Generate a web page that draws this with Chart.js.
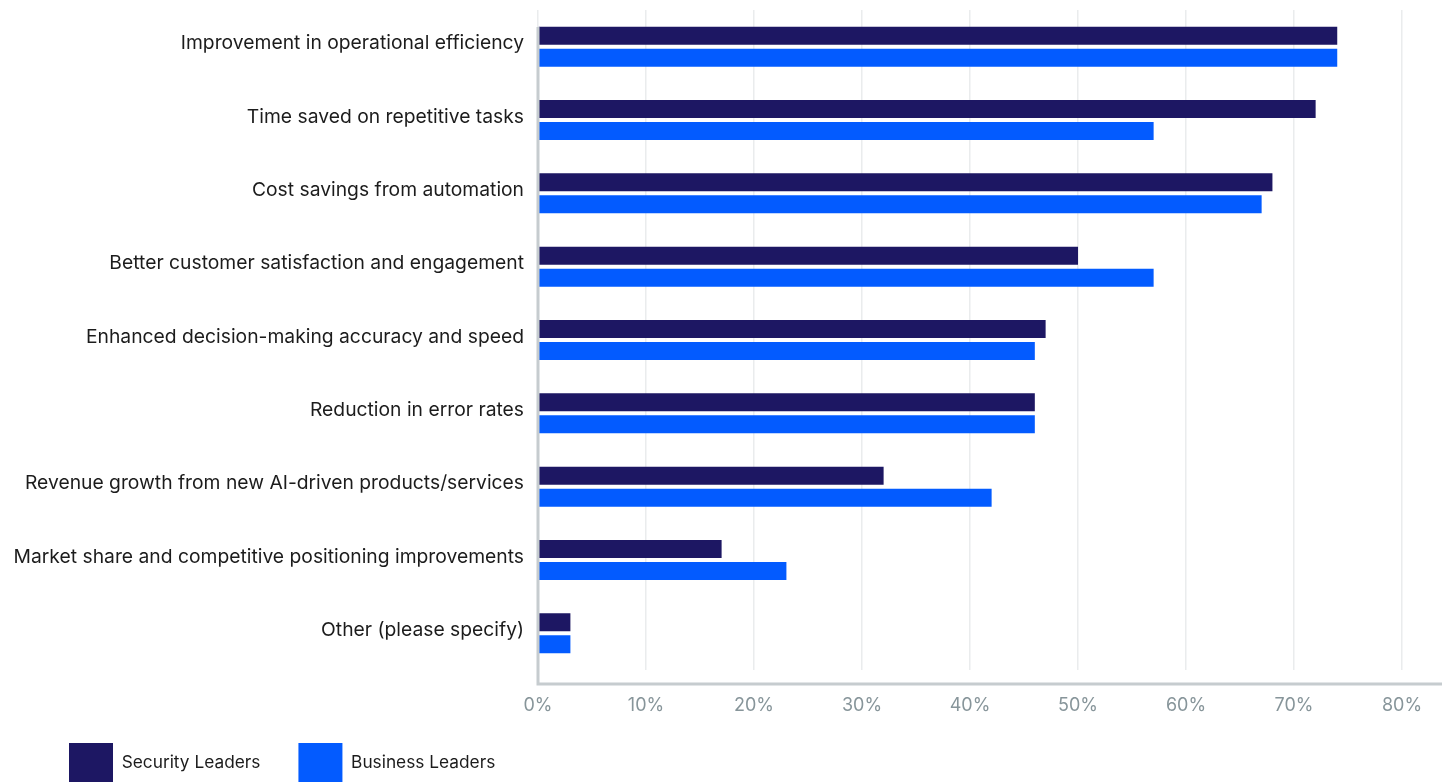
<!DOCTYPE html>
<html>
<head>
<meta charset="utf-8">
<script src="https://cdn.jsdelivr.net/npm/chart.js@4"></script>
<style>
  html, body { margin: 0; padding: 0; background: #fff; overflow: hidden; }
  #wrap { position: relative; width: 1448px; height: 794px; }
</style>
</head>
<body>
<div id="wrap"><canvas id="chart"></canvas></div>
<script>
// categories (top to bottom)
const categories = [
    "Improvement in operational efficiency",
    "Time saved on repetitive tasks",
    "Cost savings from automation",
    "Better customer satisfaction and engagement",
    "Enhanced decision-making accuracy and speed",
    "Reduction in error rates",
    "Revenue growth from new AI-driven products/services",
    "Market share and competitive positioning improvements",
    "Other (please specify)"
];

// percent of respondents
const securityLeaders = [74, 72, 68, 50, 47, 46, 32, 17, 3];
const businessLeaders = [74, 57, 67, 57, 46, 46, 42, 23, 3];

const seriesNames = ["Security Leaders", "Business Leaders"];
const xTicks = [0, 10, 20, 30, 40, 50, 60, 70, 80];

const colors = {
    navy: "#1d1763",
    blue: "#035bff",
    grid: "#eaeced",
    axis: "#c6cccf",
    tick: "#87959a",
    text: "#1c1c1c"
};

/* axis lines sit a little below / left of the grid, drawn by hand */
const axisLines = {
    id: "axisLines",
    afterLayout(chart) {
        // let the long category labels and the % labels spill out of their boxes
        chart.scales.y.left = 0;
        chart.scales.x.bottom = chart.height;
    },
    afterDraw(chart) {
        const { ctx, chartArea } = chart;
        ctx.save();
        ctx.strokeStyle = colors.axis;
        ctx.lineWidth = 3;
        ctx.beginPath();
        ctx.moveTo(chartArea.left, chartArea.top + 17);
        ctx.lineTo(chartArea.left, chartArea.bottom + 14);
        ctx.lineTo(chartArea.right, chartArea.bottom + 14);
        ctx.stroke();
        ctx.restore();
    }
};

new Chart(document.getElementById("chart"), {
    type: "bar",
    data: {
        labels: categories,
        datasets: [
            {
                label: seriesNames[0],
                data: securityLeaders,
                backgroundColor: colors.navy,
                categoryPercentage: 0.6,
                barPercentage: 0.818
            },
            {
                label: seriesNames[1],
                data: businessLeaders,
                backgroundColor: colors.blue,
                categoryPercentage: 0.6,
                barPercentage: 0.818
            }
        ]
    },
    options: {
        indexAxis: "y",
        responsive: true,
        maintainAspectRatio: false,
        animation: false,
        layout: {
            autoPadding: false,
            padding: { left: 31, right: 6, top: 10, bottom: 1 }
        },
        plugins: {
            tooltip: { enabled: false },
            legend: {
                position: "bottom",
                align: "start",
                labels: {
                    boxWidth: 44,
                    boxHeight: 40,
                    padding: 38,
                    color: colors.text,
                    font: { family: "Inter", size: 17.3 }
                }
            }
        },
        scales: {
            x: {
                min: 0,
                max: 83.7,
                afterBuildTicks(scale) {
                    scale.ticks = xTicks.map(v => ({ value: v }));
                },
                afterFit(scale) {
                    scale.height = 35;
                    scale.paddingLeft = 0;
                    scale.paddingRight = 0;
                },
                grid: { color: colors.grid, lineWidth: 1.5, drawTicks: false },
                border: { display: false },
                ticks: {
                    padding: 25,
                    color: colors.tick,
                    font: { family: "Inter", size: 18 },
                    callback: v => v + "%"
                }
            },
            y: {
                afterFit(scale) {
                    scale.width = 507;
                    scale.paddingTop = 0;
                    scale.paddingBottom = 0;
                },
                grid: { display: false, drawTicks: false },
                border: { display: false },
                ticks: {
                    padding: 14,
                    labelOffset: -3,
                    color: colors.text,
                    font: { family: "Inter", size: 19.3 }
                }
            }
        }
    },
    plugins: [axisLines]
});
</script>
</body>
</html>
